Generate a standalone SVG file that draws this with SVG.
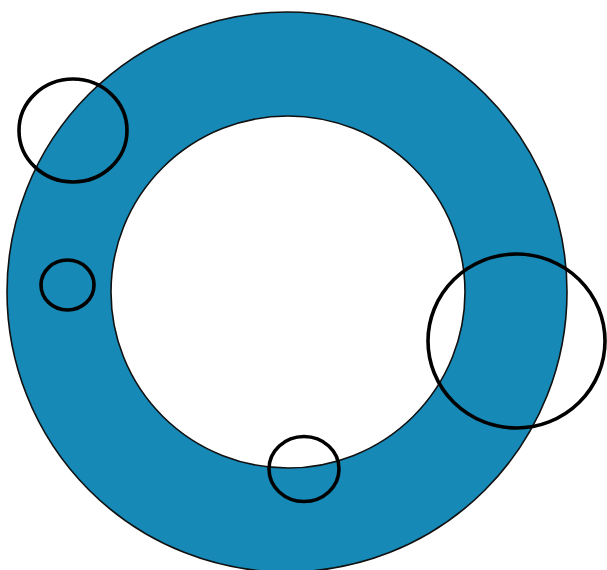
<svg xmlns="http://www.w3.org/2000/svg" width="607" height="570" viewBox="0 0 607 570">
<style>
.ring{fill:#1689b6;stroke:#111;stroke-width:1.6;fill-rule:evenodd}
.c{fill:none;stroke:#000;stroke-width:3.6}
</style>
<rect width="607" height="570" fill="#fff"/>
<g id="ring">
<path class="ring" d="M7,292 A280,280 0 1,0 567,292 A280,280 0 1,0 7,292 Z M111,292 A177,176 0 1,1 465,292 A177,176 0 1,1 111,292 Z"/>
</g>
<g id="circle-top-left"><ellipse class="c" cx="73" cy="130.5" rx="54" ry="51.5"/></g>
<g id="circle-left"><ellipse class="c" cx="67.5" cy="285" rx="26.5" ry="25"/></g>
<g id="circle-bottom"><ellipse class="c" cx="304" cy="469" rx="35" ry="32.5"/></g>
<g id="circle-right"><ellipse class="c" cx="516.5" cy="341" rx="88.5" ry="87"/></g>
<g id="connectors"/>
</svg>
